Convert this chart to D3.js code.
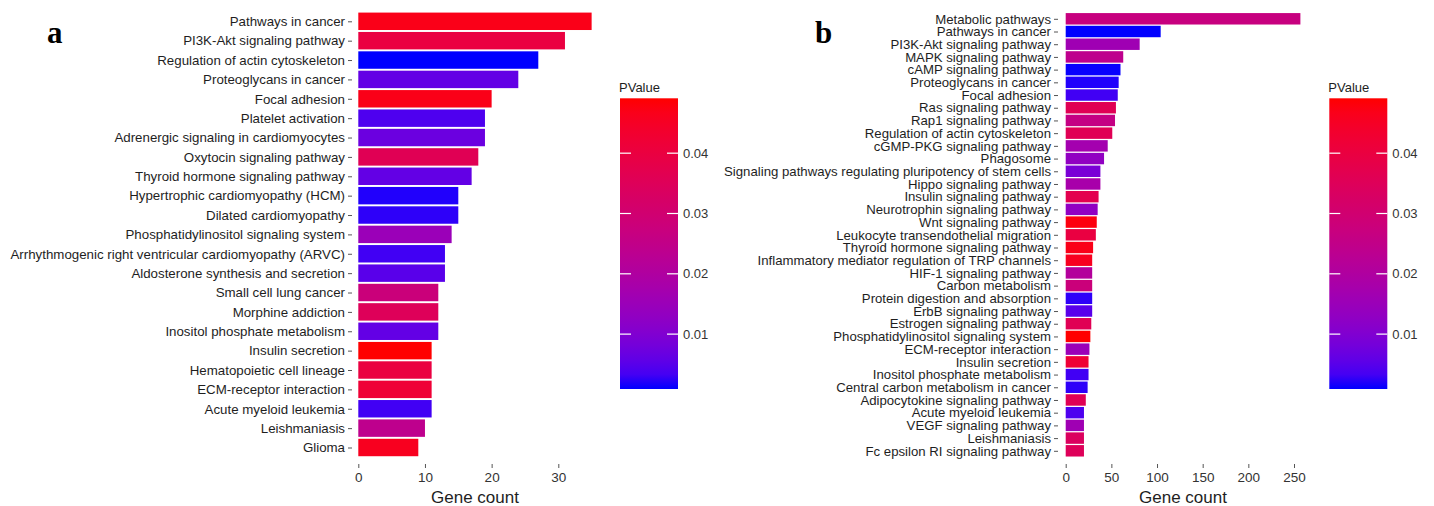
<!DOCTYPE html>
<html>
<head>
<meta charset="utf-8">
<script src="https://cdn.jsdelivr.net/npm/d3@7"></script>
<style>
  html, body { margin: 0; padding: 0; background: #fff; }
  svg { display: block; }
  text { font-family: "Liberation Sans", Arial, sans-serif; }
  text.letter { font-family: "Liberation Serif", "Times New Roman", serif; font-weight: bold; }
</style>
</head>
<body>
<svg id="chart" width="1434" height="506"></svg>
<script>
// KEGG pathway enrichment, panel a
const pathwaysA = [
  "Pathways in cancer", "PI3K-Akt signaling pathway", "Regulation of actin cytoskeleton",
  "Proteoglycans in cancer", "Focal adhesion", "Platelet activation",
  "Adrenergic signaling in cardiomyocytes", "Oxytocin signaling pathway",
  "Thyroid hormone signaling pathway", "Hypertrophic cardiomyopathy (HCM)",
  "Dilated cardiomyopathy", "Phosphatidylinositol signaling system",
  "Arrhythmogenic right ventricular cardiomyopathy (ARVC)",
  "Aldosterone synthesis and secretion", "Small cell lung cancer", "Morphine addiction",
  "Inositol phosphate metabolism", "Insulin secretion", "Hematopoietic cell lineage",
  "ECM-receptor interaction", "Acute myeloid leukemia", "Leishmaniasis", "Glioma"
];
const countsA = [35, 31, 27, 24, 20, 19, 19, 18, 17, 15, 15, 14, 13, 13, 12, 12, 12, 11, 11, 11, 11, 10, 9];
const pvalsA = [0.047, 0.040, 0.0009, 0.006, 0.047, 0.004, 0.007, 0.036, 0.006, 0.0015, 0.002, 0.015,
  0.003, 0.005, 0.028, 0.035, 0.006, 0.0491, 0.040, 0.042, 0.003, 0.024, 0.046];

// KEGG pathway enrichment, panel b
const pathwaysB = [
  "Metabolic pathways", "Pathways in cancer", "PI3K-Akt signaling pathway", "MAPK signaling pathway",
  "cAMP signaling pathway", "Proteoglycans in cancer", "Focal adhesion", "Ras signaling pathway",
  "Rap1 signaling pathway", "Regulation of actin cytoskeleton", "cGMP-PKG signaling pathway",
  "Phagosome", "Signaling pathways regulating pluripotency of stem cells", "Hippo signaling pathway",
  "Insulin signaling pathway", "Neurotrophin signaling pathway", "Wnt signaling pathway",
  "Leukocyte transendothelial migration", "Thyroid hormone signaling pathway",
  "Inflammatory mediator regulation of TRP channels", "HIF-1 signaling pathway", "Carbon metabolism",
  "Protein digestion and absorption", "ErbB signaling pathway", "Estrogen signaling pathway",
  "Phosphatidylinositol signaling system", "ECM-receptor interaction", "Insulin secretion",
  "Inositol phosphate metabolism", "Central carbon metabolism in cancer",
  "Adipocytokine signaling pathway", "Acute myeloid leukemia", "VEGF signaling pathway",
  "Leishmaniasis", "Fc epsilon RI signaling pathway"
];
const countsB = [257, 104, 81, 63, 60, 58, 57, 55, 54, 51, 46, 42, 38, 38, 36, 35, 34, 33, 30, 29,
  29, 29, 29, 29, 28, 27, 26, 25, 25, 24, 22, 20, 20, 20, 20];
const pvalsB = [0.027, 0.0009, 0.016, 0.024, 0.001, 0.0015, 0.003, 0.036, 0.026, 0.036, 0.017, 0.013,
  0.009, 0.018, 0.037, 0.013, 0.048, 0.040, 0.047, 0.046, 0.021, 0.028, 0.002, 0.005, 0.036, 0.0491,
  0.015, 0.042, 0.003, 0.002, 0.036, 0.004, 0.016, 0.034, 0.035];

const ticksA = [0, 10, 20, 30];
const ticksB = [0, 50, 100, 150, 200, 250];
const legendTicks = [0.01, 0.02, 0.03, 0.04];

const svg = d3.select("#chart");
const textCol = "#1e1e1e";

function panel(cfg) {
  const g = svg.append("g");
  const data = cfg.cats.map((c, i) => ({ name: c, count: cfg.counts[i], p: cfg.pvals[i] }));

  const x = d3.scaleLinear().domain(cfg.xRefDomain).range(cfg.xRefRange);
  const y = d3.scalePoint().domain(cfg.cats).range(cfg.yRange);
  const bh = y.step() * 0.9;

  const pExt = d3.extent(cfg.pvals);
  const color = d3.scaleLinear().domain(pExt).range(["blue", "red"]).interpolate(d3.interpolateLab);

  // bars
  g.selectAll("rect.bar").data(data).join("rect")
    .attr("class", "bar")
    .attr("x", x(0))
    .attr("y", d => y(d.name) - bh / 2)
    .attr("width", d => x(d.count) - x(0))
    .attr("height", bh)
    .attr("fill", d => color(d.p));

  // category axis
  const yAxis = g.append("g").attr("transform", `translate(${cfg.axisX},0)`)
    .call(d3.axisLeft(y).tickSize(4).tickPadding(3));
  yAxis.select(".domain").remove();
  yAxis.selectAll(".tick line").attr("stroke", "#555");
  yAxis.selectAll(".tick text").attr("fill", textCol).attr("font-size", cfg.labelSize)
    .attr("font-family", "Liberation Sans, Arial, sans-serif");

  // count axis
  const xAxis = g.append("g").attr("transform", `translate(0,${cfg.axisY})`)
    .call(d3.axisBottom(x).tickValues(cfg.ticks).tickSize(4).tickPadding(4).tickFormat(d3.format("d")));
  xAxis.select(".domain").remove();
  xAxis.selectAll(".tick line").attr("stroke", "#555");
  xAxis.selectAll(".tick text").attr("fill", "#333").attr("font-size", 13.5)
    .attr("font-family", "Liberation Sans, Arial, sans-serif");

  g.append("text")
    .attr("x", cfg.titleX).attr("y", cfg.axisY + 39)
    .attr("text-anchor", "middle")
    .attr("font-size", 17).attr("fill", textCol)
    .text("Gene count");

  // panel letter
  g.append("text")
    .attr("class", "letter")
    .attr("x", cfg.letterX).attr("y", 43)
    .attr("font-size", 31)
    .attr("fill", "#000")
    .text(cfg.letter);

  // colour bar legend
  const lg = g.append("g");
  const lx = cfg.legendX, lw = 58, ly0 = 98.3, ly1 = 389;
  const ly = d3.scaleLinear().domain(pExt).range([ly1, ly0]);
  const gradId = "grad" + cfg.letter;
  const grad = svg.append("defs").append("linearGradient")
    .attr("id", gradId).attr("x1", 0).attr("y1", 1).attr("x2", 0).attr("y2", 0);
  d3.range(0, 1.0001, 0.05).forEach(t => {
    grad.append("stop").attr("offset", t)
      .attr("stop-color", color(pExt[0] + t * (pExt[1] - pExt[0])));
  });
  lg.append("rect").attr("x", lx).attr("y", ly0).attr("width", lw).attr("height", ly1 - ly0)
    .attr("fill", `url(#${gradId})`);
  legendTicks.forEach(v => {
    const yy = ly(v);
    lg.append("line").attr("x1", lx).attr("x2", lx + 11).attr("y1", yy).attr("y2", yy)
      .attr("stroke", "#fff").attr("stroke-width", 1.2);
    lg.append("line").attr("x1", lx + lw - 11).attr("x2", lx + lw).attr("y1", yy).attr("y2", yy)
      .attr("stroke", "#fff").attr("stroke-width", 1.2);
    lg.append("text").attr("x", lx + lw + 5).attr("y", yy).attr("dy", "0.35em")
      .attr("font-size", 13).attr("fill", "#333").text(v.toFixed(2));
  });
  lg.append("text").attr("x", lx - 1).attr("y", 92)
    .attr("font-size", 13).attr("fill", textCol).text("PValue");
}

panel({
  letter: "a", letterX: 47,
  cats: pathwaysA, counts: countsA, pvals: pvalsA,
  xRefDomain: [0, 30], xRefRange: [358.3, 558.3],
  yRange: [21.3, 447.5],
  axisX: 352, axisY: 464, ticks: ticksA,
  labelSize: 13.3, titleX: 475,
  legendX: 620
});

panel({
  letter: "b", letterX: 815,
  cats: pathwaysB, counts: countsB, pvals: pvalsB,
  xRefDomain: [0, 250], xRefRange: [1065.7, 1294],
  yRange: [18.8, 450.8],
  axisX: 1058, axisY: 464, ticks: ticksB,
  labelSize: 13.2, titleX: 1183,
  legendX: 1329.3
});
</script>
</body>
</html>
